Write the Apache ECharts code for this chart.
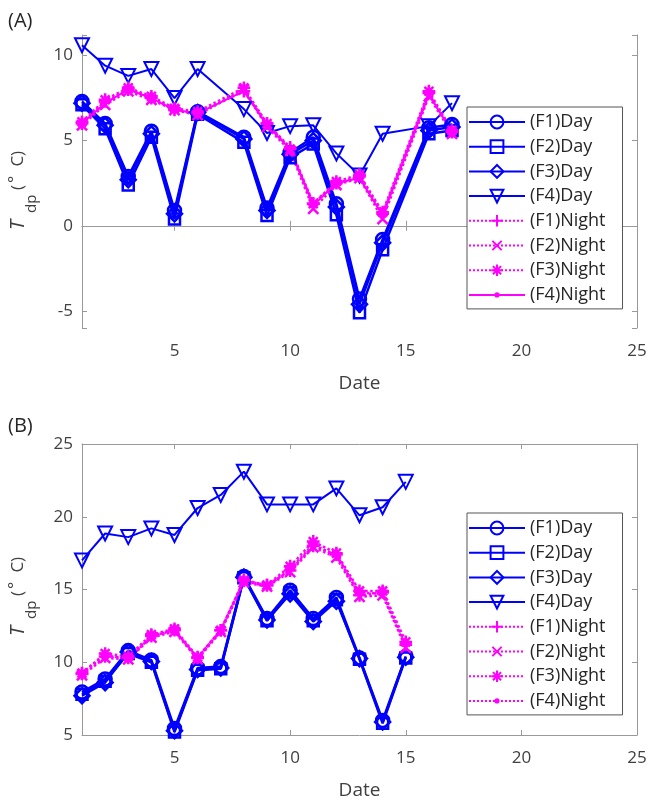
<!DOCTYPE html>
<html>
<head>
    <meta charset="utf-8">
    <title>Tdp</title>
    <script src="https://cdn.jsdelivr.net/npm/echarts@6/dist/echarts.min.js"></script>
    <style>
        html, body { margin: 0; padding: 0; background: #fff; }
        #chart { width: 650px; height: 801px; }
    </style>
</head>
<body>
<div id="chart"></div>
<script type="text/javascript">
    // 图例名称
    var names = ['(F1)Day', '(F2)Day', '(F3)Day', '(F4)Day', '(F1)Night', '(F2)Night', '(F3)Night', '(F4)Night'];

    // (A) 日期和数值
    var datesA = [1, 2, 3, 4, 5, 6, 8, 9, 10, 11, 12, 13, 14, 16, 17];
    var aF1Day = [7.3, 6.0, 2.9, 5.55, 0.9, 6.7, 5.2, 1.05, 4.3, 5.2, 1.3, -4.3, -0.8, 5.75, 5.95];
    var aF2Day = [7.1, 5.7, 2.4, 5.2, 0.4, 6.55, 4.9, 0.6, 4.0, 4.8, 0.65, -5.1, -1.4, 5.4, 5.6];
    var aF3Day = [7.2, 5.9, 2.7, 5.4, 0.7, 6.65, 5.1, 0.9, 4.2, 5.0, 1.1, -4.6, -1.0, 5.6, 5.8];
    var aF4Day = [10.6, 9.4, 8.8, 9.2, 7.5, 9.2, 6.85, 5.45, 5.85, 5.9, 4.25, 2.95, 5.4, 5.85, 7.2];
    var aF1Night = [6.0, 7.3, 8.0, 7.5, 6.8, 6.6, 7.9, 6.0, 4.6, 1.3, 2.5, 2.9, 0.7, 7.8, 5.5];
    var aF2Night = [5.9, 7.1, 7.9, 7.4, 6.8, 6.5, 8.0, 5.8, 4.4, 1.0, 2.4, 2.8, 0.4, 7.6, 5.4];
    var aF3Night = [6.1, 7.4, 8.1, 7.6, 6.9, 6.7, 8.1, 6.0, 4.5, 1.3, 2.6, 3.0, 0.8, 7.9, 5.6];
    var aF4Night = [6.0, 7.2, 8.0, 7.5, 6.8, 6.6, 7.9, 5.9, 4.5, 1.2, 2.5, 2.8, 0.6, 7.7, 5.5];

    // (B) 日期和数值
    var datesB = [1, 2, 3, 4, 5, 6, 7, 8, 9, 10, 11, 12, 13, 14, 15];
    var bF1Day = [7.95, 8.85, 10.8, 10.15, 5.45, 9.6, 9.7, 15.9, 13.0, 14.95, 13.0, 14.45, 10.3, 6.0, 10.4];
    var bF2Day = [7.8, 8.7, 10.6, 10.0, 5.2, 9.45, 9.55, 15.8, 12.85, 14.8, 12.85, 14.3, 10.2, 5.8, 10.3];
    var bF3Day = [7.7, 8.6, 10.7, 10.05, 5.3, 9.5, 9.6, 15.85, 12.9, 14.7, 12.8, 14.2, 10.25, 5.9, 10.35];
    var bF4Day = [17.0, 18.85, 18.6, 19.2, 18.75, 20.6, 21.5, 23.1, 20.85, 20.85, 20.85, 21.95, 20.1, 20.65, 22.4];
    var bF1Night = [9.2, 10.4, 10.3, 11.8, 12.2, 10.3, 12.2, 15.6, 15.3, 16.3, 18.0, 17.4, 14.6, 14.8, 11.2];
    var bF2Night = [9.1, 10.3, 10.2, 11.7, 12.1, 10.2, 12.1, 15.5, 15.2, 16.2, 17.9, 17.2, 14.5, 14.6, 11.0];
    var bF3Night = [9.25, 10.6, 10.4, 11.9, 12.3, 10.35, 12.2, 15.65, 15.3, 16.6, 18.3, 17.5, 14.9, 14.9, 11.4];
    var bF4Night = [9.2, 10.5, 10.2, 11.8, 12.2, 10.3, 12.2, 15.6, 15.2, 16.4, 18.1, 17.3, 14.8, 14.7, 11.2];

    var BLUE = '#0000ff', MAG = '#ff00ff';
    var FONT = 'Open Sans';
    var AXIS = '#999999', TXT = '#404040';

    // MATLAB 样式的标记 (外加空白边框, 图例里的尺寸才不会太大)
    var PLUS = 'path://M-1.1,-1.1L-1.1,-1.1M1.1,1.1L1.1,1.1M0,-1L0,1M-1,0L1,0';
    var CROSS = 'path://M-1.1,-1.1L-1.1,-1.1M1.1,1.1L1.1,1.1M-0.8,-0.8L0.8,0.8M-0.8,0.8L0.8,-0.8';
    var STAR = 'path://M-1.1,-1.1L-1.1,-1.1M1.1,1.1L1.1,1.1M0,-1L0,1M-1,0L1,0M-0.7,-0.7L0.7,0.7M-0.7,0.7L0.7,-0.7';
    var DOT = 'path://M-4,-4L-4,-4M4,4L4,4M-1.6,0A1.6,1.6,0,1,0,1.6,0A1.6,1.6,0,1,0,-1.6,0Z';

    var styleA = [
        {symbol: 'circle', size: 13, color: BLUE, type: 'solid', w: 2.5},
        {symbol: 'rect', size: 11, color: BLUE, type: 'solid', w: 2.5},
        {symbol: 'diamond', size: 15, color: BLUE, type: 'solid', w: 2.5},
        {symbol: 'triangle', size: 14, color: BLUE, type: 'solid', w: 2, rotate: 180},
        {symbol: PLUS, size: 14, color: MAG, type: 'dotted', w: 2.5},
        {symbol: CROSS, size: 14, color: MAG, type: 'dotted', w: 2.5},
        {symbol: STAR, size: 14, color: MAG, type: 'dotted', w: 2.5},
        {symbol: DOT, size: 12, color: MAG, type: 'solid', w: 2, filled: true}
    ];
    var styleB = styleA.slice();
    styleB[7] = {symbol: DOT, size: 12, color: MAG, type: 'dotted', w: 2.5, filled: true};

    function makeSeries(name, dates, values, idx, st) {
        return {
            name: name,
            type: 'line',
            xAxisIndex: idx,
            yAxisIndex: idx,
            data: dates.map(function (d, i) { return [d, values[i]]; }),
            symbol: st.symbol,
            symbolSize: st.size,
            symbolRotate: st.rotate || 0,
            showAllSymbol: true,
            lineStyle: {color: st.color, width: st.w, type: st.type},
            itemStyle: st.filled ? {color: st.color, borderWidth: 0}
                : {color: 'rgba(0,0,0,0)', borderColor: st.color, borderWidth: st.w},
            emphasis: {disabled: true},
            animation: false
        };
    }

    var valsA = [aF1Day, aF2Day, aF3Day, aF4Day, aF1Night, aF2Night, aF3Night, aF4Night];
    var valsB = [bF1Day, bF2Day, bF3Day, bF4Day, bF1Night, bF2Night, bF3Night, bF4Night];
    var series = [];
    names.forEach(function (n, i) { series.push(makeSeries(n, datesA, valsA[i], 0, styleA[i])); });
    names.forEach(function (n, i) { series.push(makeSeries(n, datesB, valsB[i], 1, styleB[i])); });

    function onlyFives(v) {
        return Math.abs(v % 5) < 1e-6 ? String(v) : '';
    }

    function xAx(grid, top) {
        return {
            type: 'value', gridIndex: grid, position: top ? 'top' : 'bottom',
            min: 1, max: 25, splitNumber: 5,
            name: top ? '' : 'Date', nameLocation: 'middle', nameGap: 46,
            nameTextStyle: {fontSize: 19, color: TXT, fontFamily: FONT},
            axisLine: {show: true, lineStyle: {color: AXIS, width: 1}},
            axisTick: {show: true, inside: true, length: 5, lineStyle: {color: AXIS}},
            axisLabel: {show: !top, margin: 15, fontSize: 17, color: TXT, fontFamily: FONT, formatter: onlyFives},
            splitLine: {show: false}
        };
    }

    function yAx(grid, right, min, max) {
        return {
            type: 'value', gridIndex: grid, position: right ? 'right' : 'left',
            min: min, max: max, splitNumber: 4,
            axisLine: {show: true, lineStyle: {color: AXIS, width: 1}},
            axisTick: {show: true, inside: true, length: 5, lineStyle: {color: AXIS}},
            axisLabel: {show: !right, margin: 9, fontSize: 17, color: TXT, fontFamily: FONT, formatter: onlyFives},
            splitLine: {show: false}
        };
    }

    function legendAt(top, lastDotted) {
        var data = names.map(function (n) { return {name: n}; });
        if (lastDotted) data[7] = {name: names[7], lineStyle: {type: 'dotted'}};
        return {
            orient: 'vertical', left: 467, top: top,
            itemWidth: 56, itemHeight: 16, itemGap: 6.7,
            padding: [6, 17, 5, 1],
            borderColor: '#555', borderWidth: 1, backgroundColor: '#fff',
            selectedMode: false,
            textStyle: {fontSize: 18, color: '#262626', fontFamily: FONT},
            data: data
        };
    }

    // 纵轴标题  T_dp (° C)
    function yTitle(cy) {
        return {
            type: 'group', x: 18.5, y: cy + 48, rotation: Math.PI / 2,
            children: [
                {type: 'text', x: 3, y: 0, style: {text: 'T', fontSize: 20, fontStyle: 'italic', fontFamily: FONT, fill: TXT, verticalAlign: 'middle'}},
                {type: 'text', x: 20, y: 13, style: {text: 'dp', fontSize: 15, fontFamily: FONT, fill: TXT, verticalAlign: 'middle'}},
                {type: 'text', x: 43, y: 0, style: {text: '(', fontSize: 17, fontFamily: FONT, fill: TXT, verticalAlign: 'middle'}},
                {type: 'text', x: 50, y: -3, style: {text: '°', fontSize: 17, fontFamily: FONT, fill: TXT, verticalAlign: 'middle'}},
                {type: 'text', x: 62, y: 0, style: {text: ' C)', fontSize: 17, fontFamily: FONT, fill: TXT, verticalAlign: 'middle'}}
            ]
        };
    }

    var myChart = echarts.init(document.getElementById('chart'), null, {renderer: 'canvas'});
    myChart.setOption({
        backgroundColor: '#fff',
        animation: false,
        grid: [
            {left: 82, top: 35, width: 555, height: 293, outerBoundsMode: 'none'},
            {left: 82, top: 444, width: 555, height: 291, outerBoundsMode: 'none'}
        ],
        xAxis: [xAx(0, false), xAx(1, false), xAx(0, true), xAx(1, true)],
        yAxis: [yAx(0, false, -6, 11.2), yAx(1, false, 5, 25), yAx(0, true, -6, 11.2), yAx(1, true, 5, 25)],
        legend: [legendAt(107, false), legendAt(513, true)],
        graphic: [
            {type: 'text', left: 8, top: 11, style: {text: '(A)', fontSize: 20, fontFamily: FONT, fill: '#262626'}},
            {type: 'text', left: 8, top: 416, style: {text: '(B)', fontSize: 20, fontFamily: FONT, fill: '#262626'}},
            yTitle(185),
            yTitle(591)
        ],
        series: series
    });
</script>
</body>
</html>
